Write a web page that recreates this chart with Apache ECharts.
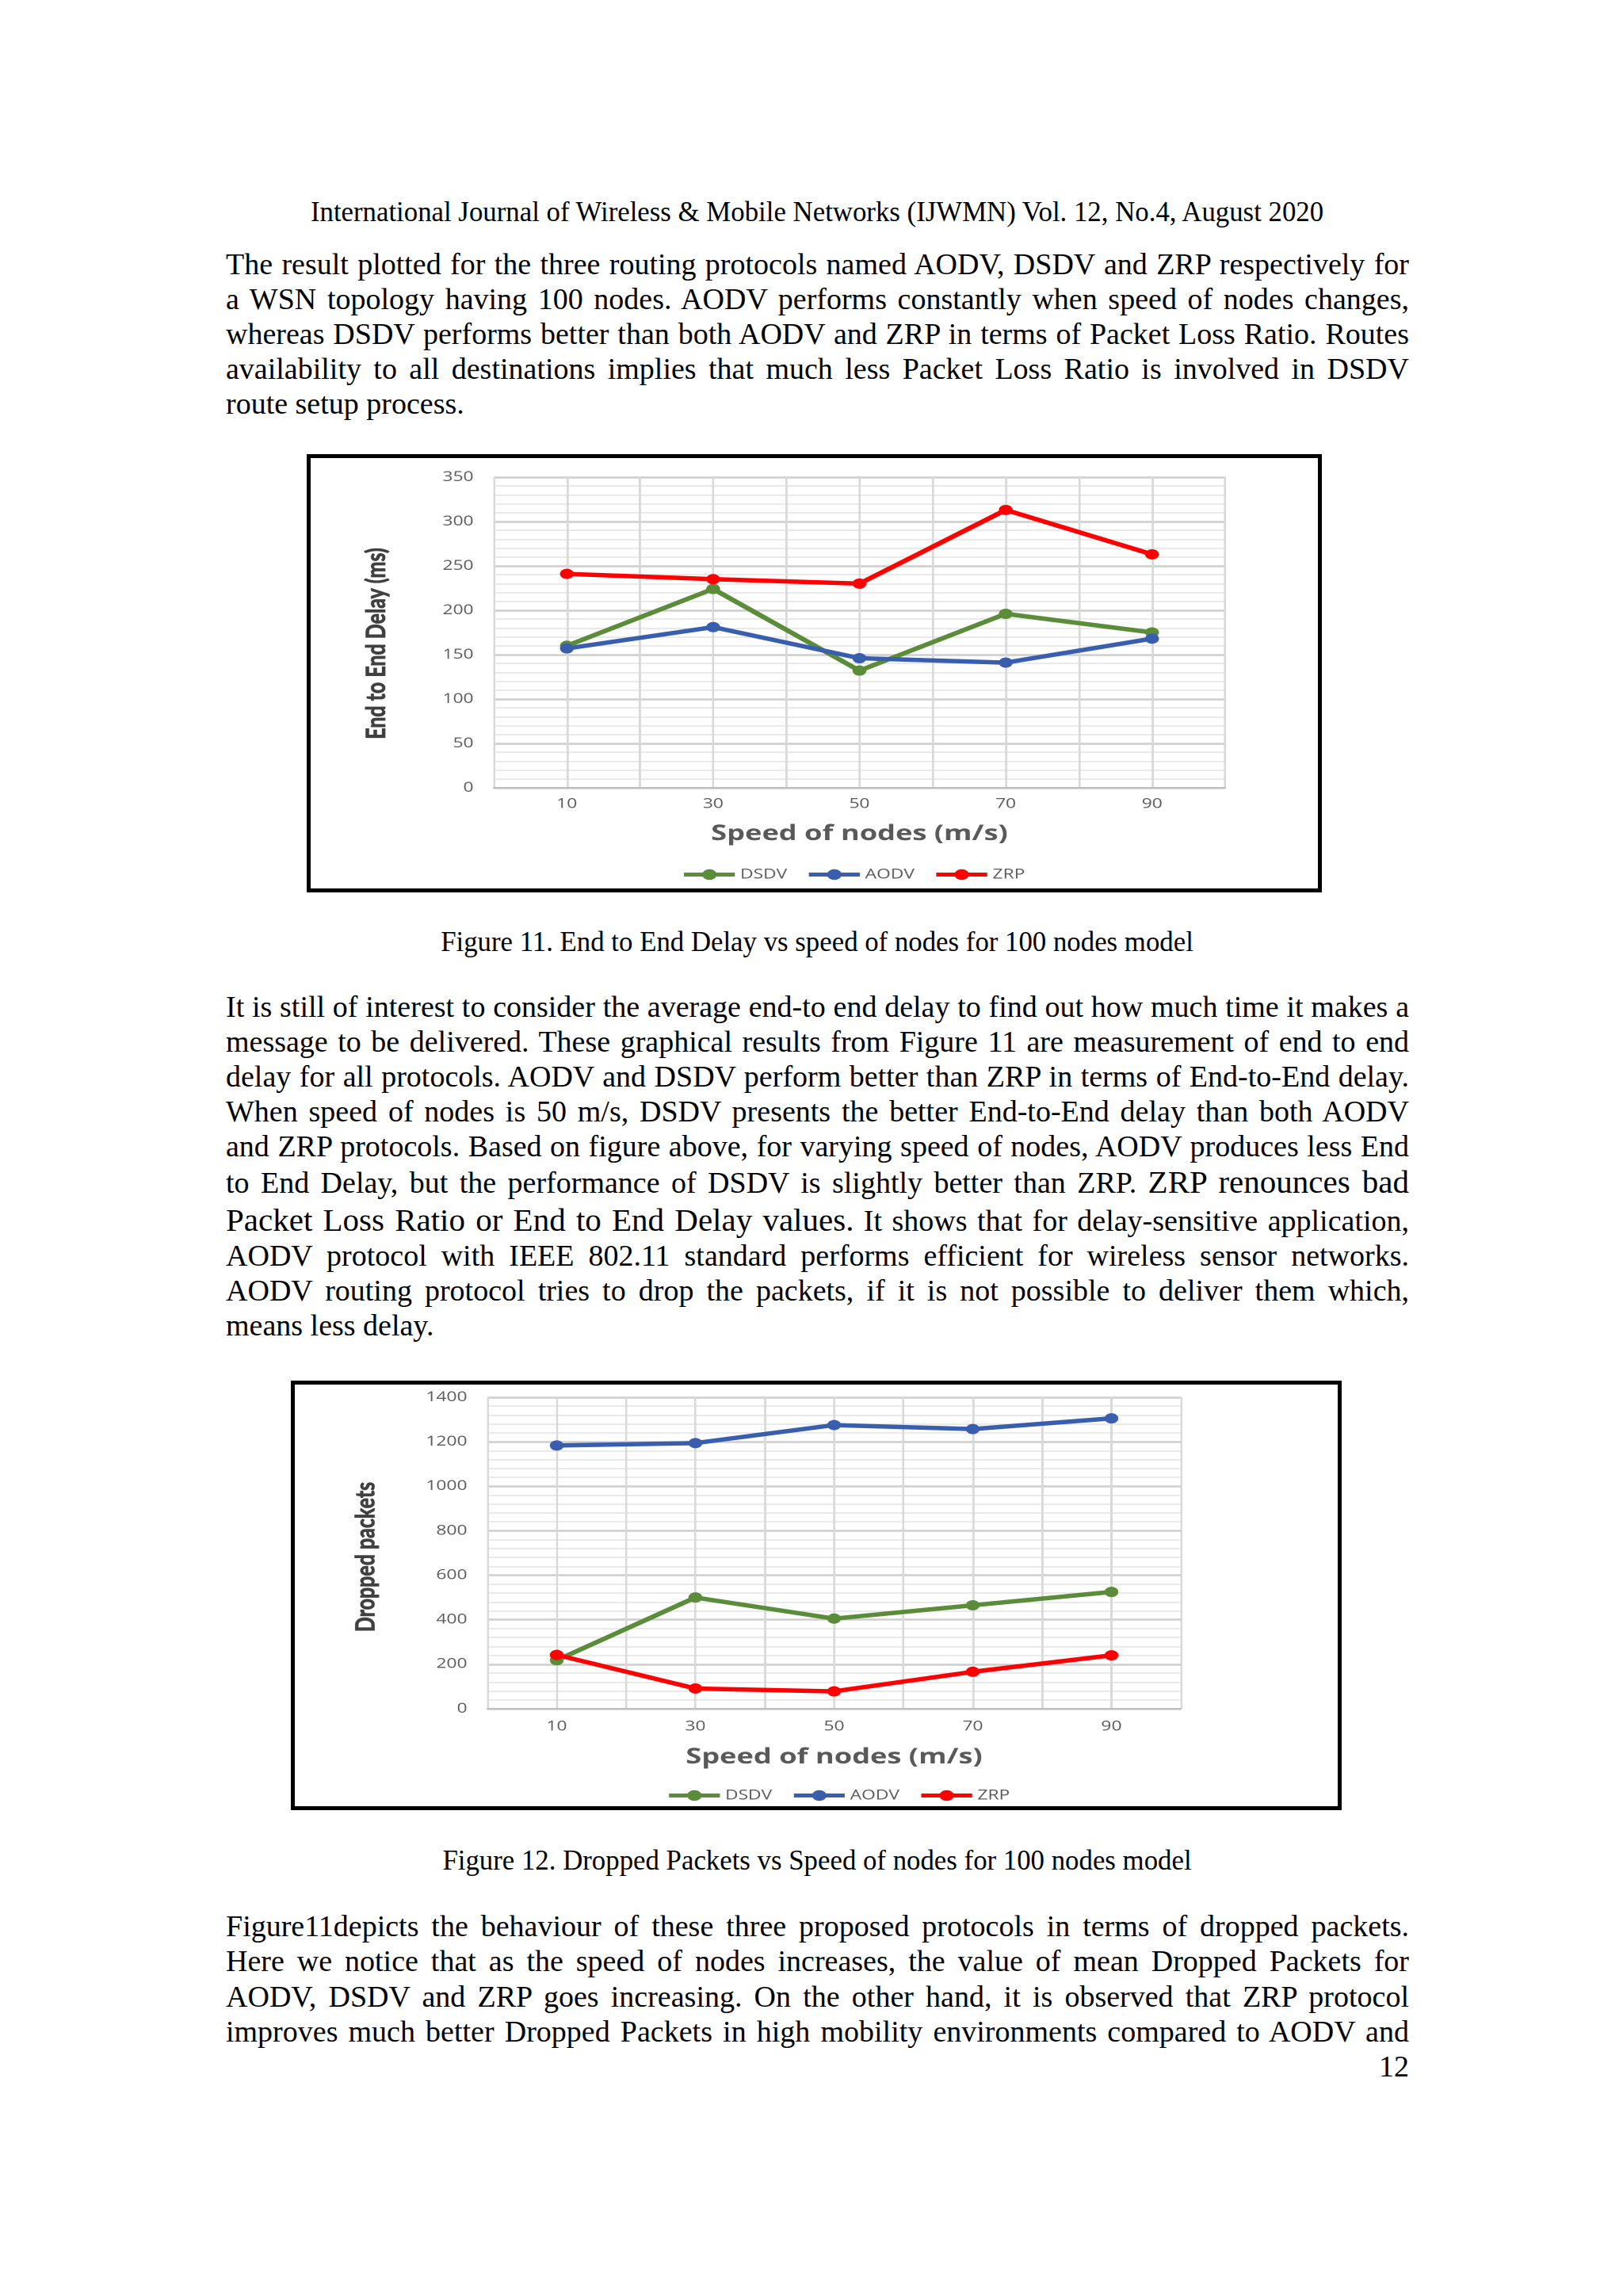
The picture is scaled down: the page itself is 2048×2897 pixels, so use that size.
<!DOCTYPE html>
<html>
<head>
<meta charset="utf-8">
<script src="https://cdn.jsdelivr.net/npm/echarts@6/dist/echarts.min.js"></script>
<style>
html,body{margin:0;padding:0;background:#fff;}
body{width:2048px;height:2897px;position:relative;overflow:hidden;font-family:"Liberation Serif","Times New Roman",serif;color:#000;}
.ln{position:absolute;left:285px;width:1493px;font-size:38px;line-height:44px;height:44px;white-space:nowrap;text-align:justify;text-align-last:justify;}
.ln.end{text-align:left;text-align-last:left;}
.big{font-size:41px;}
.cap{position:absolute;left:0;width:2062px;text-align:center;font-size:34.8px;line-height:44px;white-space:nowrap;}
.pg{position:absolute;left:285px;width:1493px;text-align:right;font-size:38px;line-height:44px;}
.frame{position:absolute;border:5px solid #000;box-sizing:border-box;}
.chart{position:absolute;}
</style>
</head>
<body>
<div class="cap" style="top:246px">International Journal of Wireless &amp; Mobile Networks (IJWMN) Vol. 12, No.4, August 2020</div>

<div class="ln" style="top:311px"><span>The result plotted for the three routing protocols named AODV, DSDV and ZRP respectively for</span></div>
<div class="ln" style="top:355px"><span>a WSN topology having 100 nodes. AODV performs constantly when speed of nodes changes,</span></div>
<div class="ln" style="top:399px"><span>whereas DSDV performs better than both AODV and ZRP in terms of Packet Loss Ratio. Routes</span></div>
<div class="ln" style="top:443px"><span>availability to all destinations implies that much less Packet Loss Ratio is involved in DSDV</span></div>
<div class="ln end" style="top:487px"><span>route setup process.</span></div>

<div class="frame" style="left:387px;top:573px;width:1281px;height:553px"></div>
<div id="c1" class="chart"></div>

<div class="cap" style="top:1167px">Figure 11. End to End Delay vs speed of nodes for 100 nodes model</div>

<div class="ln" style="top:1248px"><span>It is still of interest to consider the average end-to end delay to find out how much time it makes a</span></div>
<div class="ln" style="top:1292px"><span>message to be delivered. These graphical results from Figure 11 are measurement of end to end</span></div>
<div class="ln" style="top:1336px"><span>delay for all protocols. AODV and DSDV perform better than ZRP in terms of End-to-End delay.</span></div>
<div class="ln" style="top:1380px"><span>When speed of nodes is 50 m/s, DSDV presents the better End-to-End delay than both AODV</span></div>
<div class="ln" style="top:1424px"><span>and ZRP protocols. Based on figure above, for varying speed of nodes, AODV produces less End</span></div>
<div class="ln" style="top:1469px"><span>to End Delay, but the performance of DSDV is slightly better than ZRP. <span class="big">ZRP renounces bad</span></span></div>
<div class="ln" style="top:1517px"><span><span class="big">Packet Loss Ratio or End to End Delay values.</span> It shows that for delay-sensitive application,</span></div>
<div class="ln" style="top:1562px"><span>AODV protocol with IEEE 802.11 standard performs efficient for wireless sensor networks.</span></div>
<div class="ln" style="top:1606px"><span>AODV routing protocol tries to drop the packets, if it is not possible to deliver them which,</span></div>
<div class="ln end" style="top:1650px"><span>means less delay.</span></div>

<div class="frame" style="left:367px;top:1742px;width:1326px;height:542px"></div>
<div id="c2" class="chart"></div>

<div class="cap" style="top:2326px">Figure 12. Dropped Packets vs Speed of nodes for 100 nodes model</div>

<div class="ln" style="top:2408px"><span>Figure11depicts the behaviour of these three proposed protocols in terms of dropped packets.</span></div>
<div class="ln" style="top:2452px"><span>Here we notice that as the speed of nodes increases, the value of mean Dropped Packets for</span></div>
<div class="ln" style="top:2497px"><span>AODV, DSDV and ZRP goes increasing. On the other hand, it is observed that ZRP protocol</span></div>
<div class="ln" style="top:2541px"><span>improves much better Dropped Packets in high mobility environments compared to AODV and</span></div>
<div class="pg" style="top:2585px">12</div>

<script>
// ---- data ----
const seriesNames = ['DSDV', 'AODV', 'ZRP'];
const speeds = [10, 30, 50, 70, 90];
const xTickLabels = ['10', '30', '50', '70', '90'];
const delayDSDV = [160, 224, 132, 196, 175];
const delayAODV = [157, 181, 146, 141, 168];
const delayZRP  = [241, 235, 230, 313, 263];
const dropDSDV = [218, 500, 405, 465, 525];
const dropAODV = [1183, 1194, 1275, 1257, 1305];
const dropZRP  = [242, 91, 78, 166, 240];

// ---- fit justified text lines ----
document.querySelectorAll('.ln').forEach(function (el) {
  const sp = el.firstElementChild;
  const w = sp.getBoundingClientRect().width;
  if (w > 1493) {
    const n = (sp.textContent.match(/ /g) || []).length || 1;
    el.style.wordSpacing = ((1493 - w) / n - 0.3) + 'px';
  }
});

// ---- charts ----
const S = 1.34;          // horizontal stretch of the pasted chart pictures
const colors = ['#5a8c3a', '#3a5eae', '#ff0000'];

function build(cfg) {
  const inner = cfg.inner, p = cfg.plot;
  const el = document.getElementById(cfg.id);
  el.style.left = inner.l + 'px';
  el.style.top = inner.t + 'px';
  el.style.width = (inner.w / S) + 'px';
  el.style.height = inner.h + 'px';
  el.style.transformOrigin = '0 0';
  el.style.transform = 'scaleX(' + S + ')';
  const chart = echarts.init(el, null, {renderer: 'canvas', devicePixelRatio: 2});
  const values = cfg.values;
  chart.setOption({
    animation: false,
    textStyle: {fontFamily: 'Open Sans'},
    grid: {
      left: (p.l - inner.l) / S, top: p.t - inner.t,
      width: (p.r - p.l) / S, height: p.b - p.t
    },
    xAxis: {
      type: 'value', min: 0, max: 100, interval: 10,
      axisLine: {show: true, lineStyle: {color: '#bfbfbf', width: 2}},
      axisTick: {show: false},
      axisLabel: {
        margin: cfg.xLabelMargin, fontFamily: 'Open Sans', fontSize: 17, color: '#595959',
        formatter: function (v) { const i = speeds.indexOf(v); return i >= 0 ? xTickLabels[i] : ''; }
      },
      splitLine: {show: true, lineStyle: {color: '#d9d9d9', width: 2}},
      name: 'Speed of nodes (m/s)', nameLocation: 'middle', nameGap: cfg.xNameGap,
      nameTextStyle: {fontFamily: 'Open Sans', fontWeight: 'bold', fontSize: 27, color: '#595959'}
    },
    yAxis: {
      type: 'value', min: 0, max: cfg.yMax, interval: cfg.yInterval,
      axisLine: {show: false}, axisTick: {show: false},
      axisLabel: {margin: 19, fontFamily: 'Open Sans', fontSize: 17, color: '#595959',
        formatter: function (v) { return String(v); }},
      splitLine: {show: true, lineStyle: {color: '#cdcdcd', width: 2.5}},
      minorTick: {show: false, splitNumber: 5},
      minorSplitLine: {show: true, lineStyle: {color: '#e3e3e3', width: 1.5}},
      name: cfg.yName, nameLocation: 'middle', nameGap: cfg.yNameGap,
      nameTextStyle: {fontFamily: 'Lato', fontWeight: 'bold', fontSize: 25, color: '#404040',
        textBorderColor: '#404040', textBorderWidth: 0.7, padding: cfg.yNamePad}
    },
    legend: {
      data: seriesNames, left: (cfg.legendLeft - inner.l) / S, top: cfg.legendCenter - inner.t - 10,
      itemWidth: 48, itemHeight: 17, itemGap: 18,
      lineStyle: {width: 5},
      textStyle: {fontFamily: 'Open Sans', fontSize: 17, color: '#595959'}
    },
    series: seriesNames.map(function (name, i) {
      return {
        name: name, type: 'line',
        data: speeds.map(function (x, j) { return [x, values[i][j]]; }),
        symbol: 'circle', symbolSize: 13,
        lineStyle: {color: colors[i], width: 5.5},
        itemStyle: {color: colors[i]}
      };
    })
  });
}

build({
  id: 'c1',
  inner: {l: 392, t: 578, w: 1271, h: 543},
  plot: {l: 623, r: 1546, t: 602, b: 994},
  yMax: 350, yInterval: 50,
  yName: 'End to End Delay (ms)', yNameGap: 98, yNamePad: [0, 28, 0, 0],
  xLabelMargin: 12, xNameGap: 45,
  legendLeft: 853, legendCenter: 1100,
  values: [delayDSDV, delayAODV, delayZRP]
});

build({
  id: 'c2',
  inner: {l: 372, t: 1747, w: 1316, h: 532},
  plot: {l: 615, r: 1490, t: 1763, b: 2156},
  yMax: 1400, yInterval: 200,
  yName: 'Dropped packets', yNameGap: 102, yNamePad: [0, 10, 0, 0],
  xLabelMargin: 14, xNameGap: 48,
  legendLeft: 834, legendCenter: 2262,
  values: [dropDSDV, dropAODV, dropZRP]
});
</script>
</body>
</html>
